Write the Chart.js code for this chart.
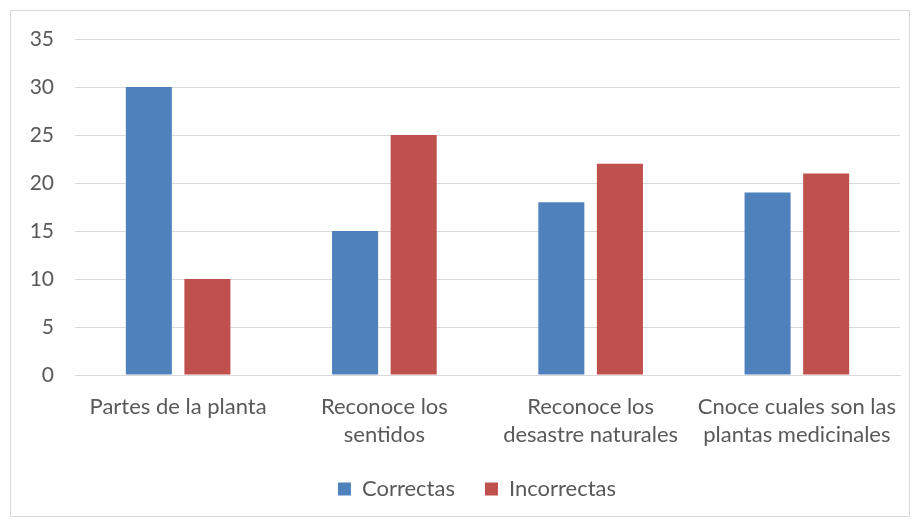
<!DOCTYPE html>
<html>
<head>
<meta charset="utf-8">
<script src="https://cdn.jsdelivr.net/npm/chart.js@4"></script>
<style>
html,body{margin:0;padding:0;background:#fff;}
#frame{position:absolute;left:10px;top:10px;width:900px;height:507px;border:1px solid #D9D9D9;box-sizing:border-box;}
#wrap{position:absolute;left:0;top:0;width:917px;height:521px;}
</style>
</head>
<body>
<div id="frame"></div>
<div id="wrap"><canvas id="c" width="917" height="521"></canvas></div>
<script>
const categories = [
  ["Partes de la planta"],
  ["Reconoce los", "sentidos"],
  ["Reconoce los", "desastre naturales"],
  ["Cnoce cuales son las", "plantas medicinales"]
];
const seriesNames = ["Correctas", "Incorrectas"];
const correctas = [30, 15, 18, 19];
const incorrectas = [10, 25, 22, 21];
const yTicks = [0, 5, 10, 15, 20, 25, 30, 35];

const FONT = "Lato, 'Open Sans', sans-serif";
const TXT = "#595959";

const legendShift = {
  id: "legendShift",
  afterLayout(chart) {
    const lg = chart.legend;
    if (lg) { lg.left += 27; lg.right += 27; lg.top -= 9; lg.bottom -= 9; }
  }
};

new Chart(document.getElementById("c"), {
  type: "bar",
  data: {
    labels: categories,
    datasets: [
      {label: seriesNames[0], data: correctas, backgroundColor: "#4F81BD", categoryPercentage: 0.568, barPercentage: 0.786},
      {label: seriesNames[1], data: incorrectas, backgroundColor: "#C0504D", categoryPercentage: 0.568, barPercentage: 0.786}
    ]
  },
  plugins: [legendShift],
  options: {
    responsive: false,
    animation: false,
    layout: {padding: {left: 0, right: 17, top: 39, bottom: 2}},
    plugins: {
      tooltip: {enabled: false},
      legend: {
        position: "bottom",
        labels: {
          boxWidth: 13, boxHeight: 13, padding: 30,
          color: TXT,
          font: {family: FONT, size: 22}
        }
      }
    },
    scales: {
      x: {
        grid: {display: false, drawTicks: false},
        border: {color: "#D9D9D9", width: 1},
        ticks: {
          color: TXT, padding: 18, maxRotation: 0, autoSkip: false,
          font: {family: FONT, size: 22, lineHeight: 1.27}
        },
        afterFit: s => { s.height = 82; }
      },
      y: {
        min: 0, max: 35,
        afterBuildTicks: s => { s.ticks = yTicks.map(v => ({value: v})); },
        grid: {color: "#D9D9D9", drawTicks: false},
        border: {display: false},
        ticks: {color: TXT, padding: 21, font: {family: FONT, size: 21}},
        afterFit: s => { s.width = 75; }
      }
    }
  }
});
</script>
</body>
</html>
